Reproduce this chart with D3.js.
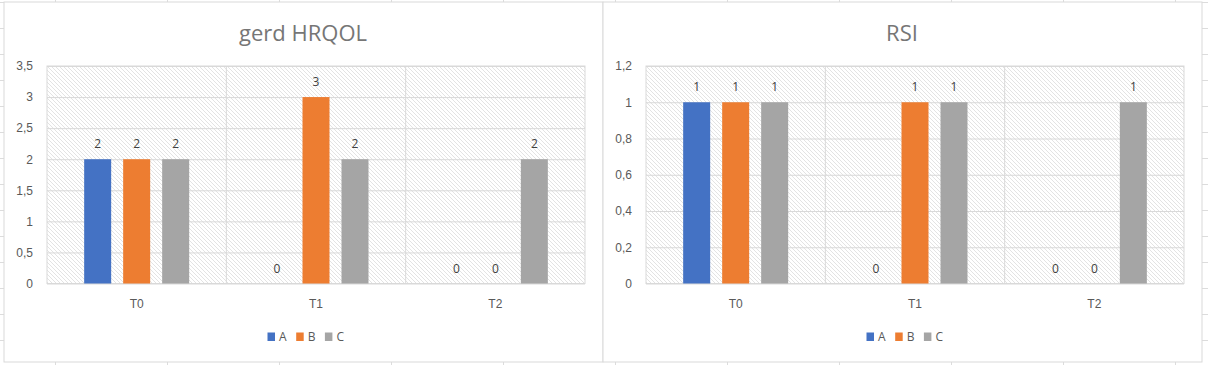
<!DOCTYPE html>
<html>
<head>
<meta charset="utf-8">
<script src="https://cdn.jsdelivr.net/npm/d3@7"></script>
<style>
  body { margin: 0; background: #fff; }
  svg { display: block; font-family: "Open Sans", "Noto Sans", sans-serif; }
  .tick text { fill: #595959; font-size: 12px; }
</style>
</head>
<body>
<svg id="sheet" width="1208" height="365"></svg>
<script>
const categories = ["T0", "T1", "T2"];
const seriesNames = ["A", "B", "C"];
const seriesColors = ["#4472c4", "#ed7d31", "#a5a5a5"];

const gerdA = [2, 0, 0];
const gerdB = [2, 3, 0];
const gerdC = [2, 2, 2];
const gerdTicks = [0, 0.5, 1, 1.5, 2, 2.5, 3, 3.5];

const rsiA = [1, 0, 0];
const rsiB = [1, 1, 0];
const rsiC = [1, 1, 1];
const rsiTicks = [0, 0.2, 0.4, 0.6, 0.8, 1, 1.2];

const fmt = d3.formatLocale({ decimal: ",", thousands: ".", grouping: [3], currency: ["", ""] }).format("~g");

const svg = d3.select("#sheet");

// spreadsheet grid behind the charts
const gridColor = "#dcdcdc";
svg.append("g").selectAll("line.col")
  .data(d3.range(0, 11))
  .join("line")
  .attr("x1", k => 55.5 + 112 * k).attr("x2", k => 55.5 + 112 * k)
  .attr("y1", 0).attr("y2", 365)
  .attr("stroke", gridColor);
svg.append("g").selectAll("line.row")
  .data(d3.range(0, 14))
  .join("line")
  .attr("x1", 0).attr("x2", 1208)
  .attr("y1", k => 2.5 + 26 * k).attr("y2", k => 2.5 + 26 * k)
  .attr("stroke", gridColor);

// hatch pattern for the plot area
const defs = svg.append("defs");
const pat = defs.append("pattern")
  .attr("id", "hatch")
  .attr("patternUnits", "userSpaceOnUse")
  .attr("width", 4).attr("height", 4);
pat.append("rect").attr("width", 4).attr("height", 4).attr("fill", "#fff");
pat.append("path")
  .attr("d", "M-1,-1 L5,5 M-1,3 L1,5 M3,-1 L5,1")
  .attr("stroke", "#e3e3e3")
  .attr("stroke-width", 1);

const chartW = 599, chartH = 360;
const margin = { top: 64.5, left: 43.5, right: 17.5, bottom: 78 };
const plotW = chartW - margin.left - margin.right;
const plotH = chartH - margin.top - margin.bottom;

function drawChart(ox, oy, title, seriesValues, ticks) {
  const g = svg.append("g").attr("transform", `translate(${ox},${oy})`);

  g.append("rect")
    .attr("x", 0.5).attr("y", 0.5)
    .attr("width", chartW).attr("height", chartH)
    .attr("fill", "#fff")
    .attr("stroke", "#d9d9d9");

  g.append("text")
    .attr("x", chartW / 2)
    .attr("y", 39)
    .attr("text-anchor", "middle")
    .attr("font-size", "22px")
    .attr("fill", "#767676")
    .text(title);

  const plot = g.append("g").attr("transform", `translate(${margin.left},${margin.top})`);

  const x0 = d3.scaleBand().domain(categories).range([0, plotW]);
  const barW = 27, step = 39;
  const pIn = (step - barW) / step;
  const pOut = (x0.bandwidth() / step - (seriesNames.length - pIn)) / 2;
  const x1 = d3.scaleBand().domain(seriesNames).range([0, x0.bandwidth()])
    .paddingInner(pIn).paddingOuter(pOut);
  const y = d3.scaleLinear().domain([0, d3.max(ticks)]).range([plotH, 0]);

  plot.append("rect")
    .attr("width", plotW).attr("height", plotH)
    .attr("fill", "url(#hatch)");

  // horizontal gridlines
  plot.append("g")
    .call(d3.axisLeft(y).tickValues(ticks).tickSize(-plotW).tickFormat(""))
    .call(a => a.select(".domain").remove())
    .call(a => a.selectAll("line").attr("stroke", "#d9d9d9"));

  // category dividers and plot border
  plot.append("g").selectAll("line")
    .data(categories.slice(1))
    .join("line")
    .attr("x1", d => x0(d)).attr("x2", d => x0(d))
    .attr("y1", 0).attr("y2", plotH)
    .attr("stroke", "#d9d9d9");
  plot.append("rect")
    .attr("width", plotW).attr("height", plotH)
    .attr("fill", "none").attr("stroke", "#d9d9d9");

  // value axis labels
  plot.append("g")
    .call(d3.axisLeft(y).tickValues(ticks).tickSize(0).tickPadding(14).tickFormat(fmt))
    .call(a => a.select(".domain").remove())
    .call(a => a.selectAll("text").attr("font-family", null));

  // category labels
  plot.append("g")
    .attr("transform", `translate(0,${plotH})`)
    .call(d3.axisBottom(x0).tickSize(0).tickPadding(16))
    .call(a => a.select(".domain").remove())
    .call(a => a.selectAll("text").attr("font-family", null));

  const rows = [];
  categories.forEach((c, i) => {
    seriesNames.forEach((s, j) => rows.push({ cat: c, key: s, idx: j, value: seriesValues[j][i] }));
  });

  plot.append("g").selectAll("rect")
    .data(rows)
    .join("rect")
    .attr("x", d => x0(d.cat) + x1(d.key))
    .attr("y", d => y(d.value))
    .attr("width", x1.bandwidth())
    .attr("height", d => plotH - y(d.value))
    .attr("fill", d => seriesColors[d.idx]);

  plot.append("g").selectAll("text")
    .data(rows)
    .join("text")
    .attr("x", d => x0(d.cat) + x1(d.key) + x1.bandwidth() / 2)
    .attr("y", d => y(d.value) - 11)
    .attr("text-anchor", "middle")
    .attr("font-size", "12px")
    .attr("fill", "#404040")
    .text(d => fmt(d.value));

  // legend
  const leg = g.append("g").attr("transform", "translate(264,331)");
  const item = leg.selectAll("g")
    .data(seriesNames)
    .join("g")
    .attr("transform", (d, i) => `translate(${i * 28.7},0)`);
  item.append("rect")
    .attr("width", 7.5).attr("height", 8.5)
    .attr("fill", (d, i) => seriesColors[i]);
  item.append("text")
    .attr("x", 11.5).attr("y", 8.5)
    .attr("font-size", "12px")
    .attr("fill", "#595959")
    .text(d => d);
}

drawChart(3.5, 1.5, "gerd HRQOL", [gerdA, gerdB, gerdC], gerdTicks);
drawChart(602.5, 1.5, "RSI", [rsiA, rsiB, rsiC], rsiTicks);
</script>
</body>
</html>
